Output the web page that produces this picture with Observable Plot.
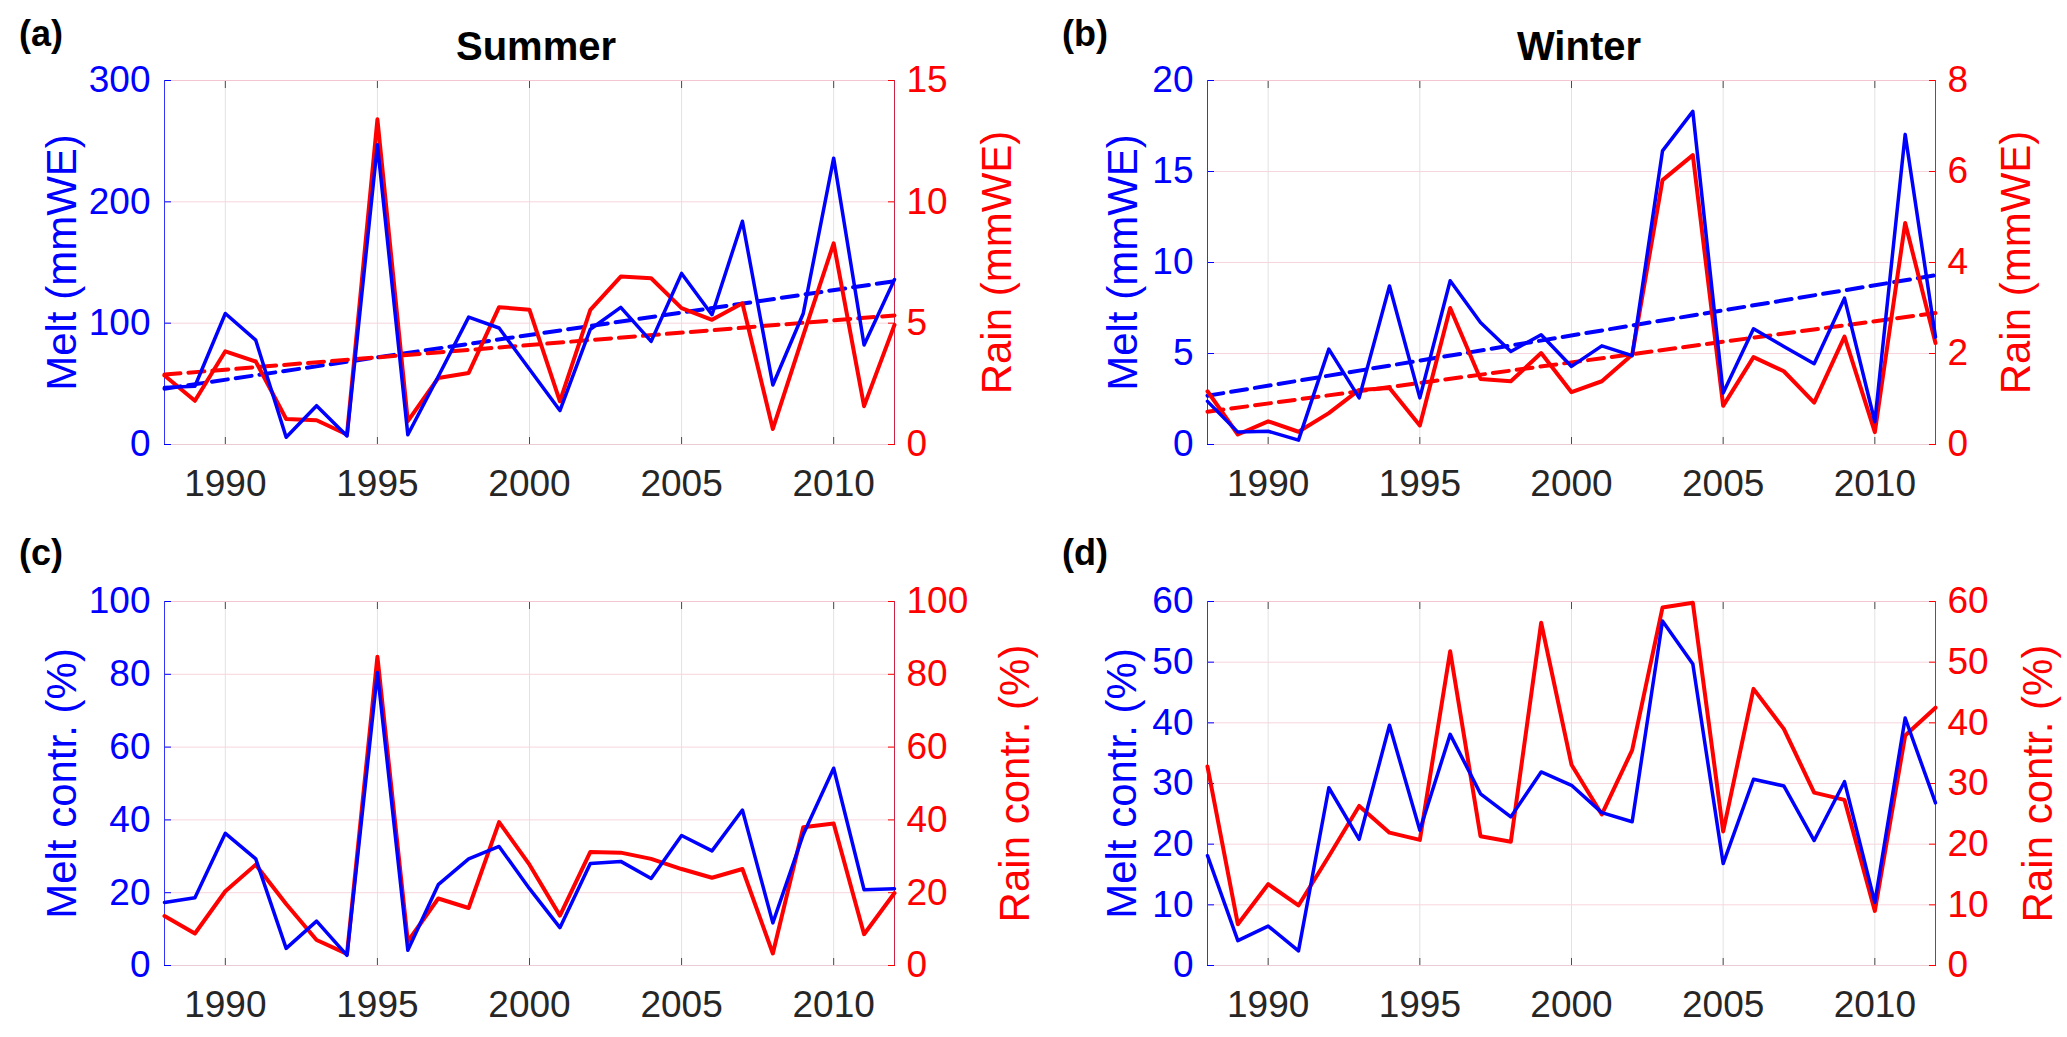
<!DOCTYPE html>
<html>
<head>
<meta charset="utf-8">
<script src="https://cdn.jsdelivr.net/npm/d3@7"></script>
<script src="https://cdn.jsdelivr.net/npm/@observablehq/plot@0.6"></script>
<style>
  body { margin: 0; background: white; }
  #fig { position: relative; width: 2067px; height: 1037px; background: white; font-family: "Liberation Sans", Arial, sans-serif; overflow: hidden; }
  #fig svg { position: absolute; overflow: visible; }
  .title { position: absolute; font-weight: bold; font-size: 40px; line-height: 1; color: #000; transform: translateX(-50%); white-space: nowrap; }
  .tag { position: absolute; font-weight: bold; font-size: 36px; line-height: 1; color: #000; }
</style>
</head>
<body>
<div id="fig">
  <div class="tag" style="left:19px;top:16px">(a)</div>
  <div class="tag" style="left:1062px;top:16px">(b)</div>
  <div class="tag" style="left:19px;top:535px">(c)</div>
  <div class="tag" style="left:1062px;top:535px">(d)</div>
  <div class="title" style="left:536px;top:26px">Summer</div>
  <div class="title" style="left:1579px;top:26px">Winter</div>
</div>
<script>
const years = [1988, 1989, 1990, 1991, 1992, 1993, 1994, 1995, 1996, 1997, 1998, 1999, 2000,
  2001, 2002, 2003, 2004, 2005, 2006, 2007, 2008, 2009, 2010, 2011, 2012];
const yearTicks = [1990, 1995, 2000, 2005, 2010];

// (a) summer, mmWE
const summerMelt = [47, 48, 108, 86, 6, 32, 7, 247, 8, 56, 105, 96, 62, 28, 95, 113, 85, 141, 107, 184, 49, 108, 236, 82, 136];
const summerRain = [2.84, 1.8, 3.84, 3.42, 1.05, 1.0, 0.41, 13.4, 0.96, 2.74, 2.95, 5.66, 5.55, 1.78, 5.55, 6.92, 6.85, 5.62, 5.14, 5.82, 0.64, 4.5, 8.29, 1.58, 4.93];
// (b) winter, mmWE
const winterMelt = [2.37, 0.68, 0.73, 0.24, 5.24, 2.56, 8.71, 2.56, 9.0, 6.7, 5.11, 6.03, 4.29, 5.42, 4.88, 16.13, 18.3, 2.83, 6.36, 5.39, 4.44, 8.04, 1.25, 17.04, 5.9];
const winterRain = [1.17, 0.22, 0.51, 0.28, 0.69, 1.2, 1.24, 0.42, 3.0, 1.44, 1.39, 2.01, 1.15, 1.39, 1.97, 5.81, 6.36, 0.85, 1.92, 1.61, 0.92, 2.37, 0.27, 4.87, 2.23];
// (c) summer contribution, %
const summerMeltPct = [17.3, 18.6, 36.3, 29.3, 4.7, 12.2, 2.8, 80.5, 4.2, 22.2, 29.3, 32.7, 21.1, 10.4, 28.0, 28.6, 23.9, 35.7, 31.5, 42.7, 11.7, 36, 54.2, 20.8, 21.1];
const summerRainPct = [13.6, 8.8, 20.4, 27.7, 16.9, 7.0, 3.2, 84.8, 6.6, 18.4, 15.8, 39.4, 27.7, 13.7, 31.2, 31.0, 29.3, 26.5, 24.1, 26.5, 3.3, 38.0, 39.0, 8.6, 19.9];
// (d) winter contribution, %
const winterMeltPct = [18.1, 4.1, 6.5, 2.4, 29.3, 20.8, 39.6, 22.3, 38.1, 28.3, 24.5, 31.9, 29.7, 25.2, 23.7, 56.8, 49.7, 16.8, 30.7, 29.6, 20.6, 30.3, 10.4, 40.8, 26.8];
const winterRainPct = [32.8, 6.8, 13.4, 9.9, 18, 26.3, 21.9, 20.7, 51.8, 21.3, 20.4, 56.5, 33.1, 24.9, 35.5, 59.0, 59.8, 22.1, 45.6, 39.0, 28.5, 27.3, 9.0, 37.9, 42.5];

// dashed trend lines, end points
const trendYears = [1988, 2012];
const summerMeltTrend = [46, 134.6];
const summerRainTrend = [2.88, 5.32];
const winterMeltTrend = [2.68, 9.3];
const winterRainTrend = [0.72, 2.89];

const BLUE = "#0000ff", RED = "#ff0000";

function panel({left, top, width, mLeft, mRight, melt, rain, meltMax, meltTicks, rainMax, rainTicks,
                meltLabel, rainLabel, labLeft, labRight, meltTrend, rainTrend}) {
  const r2m = d3.scaleLinear([0, rainMax], [0, meltMax]);
  const rows = years.map((year, i) => ({year, melt: melt[i], rain: rain[i]}));
  const trend = meltTrend ? trendYears.map((year, i) => ({year, melt: meltTrend[i], rain: rainTrend[i]})) : [];
  const chart = Plot.plot({
    width: width,
    height: 510,
    marginLeft: mLeft,
    marginRight: mRight,
    marginTop: 80,
    marginBottom: 66,
    x: {domain: [1988, 2012]},
    y: {domain: [0, meltMax]},
    style: {fontFamily: "'Liberation Sans', Arial, sans-serif", fontSize: "37px", background: "transparent"},
    marks: [
      Plot.gridX(yearTicks, {stroke: "#e2e2e2", strokeOpacity: 1}),
      Plot.gridY(meltTicks, {stroke: "#f7d5dd", strokeOpacity: 1}),
      Plot.ruleY([meltMax], {stroke: "#f2c6d1"}),
      Plot.ruleY([0], {stroke: "#ecccd4"}),
      Plot.axisX(yearTicks, {tickSize: -7, tickPadding: 32, tickFormat: d => String(d), stroke: "#4d4d4d", fill: "#262626", label: null}),
      Plot.axisX(yearTicks, {anchor: "top", tickSize: -7, tickFormat: () => "", stroke: "#4d4d4d", label: null}),
      Plot.axisY(meltTicks, {anchor: "left", tickSize: -7, tickPadding: 21, stroke: BLUE, fill: BLUE, label: null}),
      Plot.axisY(rainTicks.map(r2m), {anchor: "right", tickSize: -7, tickPadding: 19, stroke: RED, fill: RED,
        tickFormat: d => String(Math.round(r2m.invert(d) * 100) / 100), label: null}),
      Plot.ruleX([1988], {stroke: "#3333ff"}),
      Plot.ruleX([2012], {stroke: "#cc2244"}),
      Plot.lineY(trend, {x: "year", y: "melt", stroke: BLUE, strokeWidth: 4, strokeDasharray: "16,8"}),
      Plot.lineY(trend, {x: "year", y: d => r2m(d.rain), stroke: RED, strokeWidth: 4, strokeDasharray: "16,8"}),
      Plot.lineY(rows, {x: "year", y: d => r2m(d.rain), stroke: RED, strokeWidth: 4}),
      Plot.lineY(rows, {x: "year", y: "melt", stroke: BLUE, strokeWidth: 3.5}),
      Plot.text([meltLabel], {text: d => d, frameAnchor: "left", textAnchor: "middle", dx: labLeft, rotate: -90, fill: BLUE, fontSize: 42}),
      Plot.text([rainLabel], {text: d => d, frameAnchor: "right", textAnchor: "middle", dx: labRight, rotate: -90, fill: RED, fontSize: 42})
    ]
  });
  chart.style.left = left + "px";
  chart.style.top = top + "px";
  document.getElementById("fig").append(chart);
}

panel({left: 0, top: 0, width: 1033, mLeft: 164, mRight: 139,
  melt: summerMelt, rain: summerRain, meltMax: 300, meltTicks: [0, 100, 200, 300],
  rainMax: 15, rainTicks: [0, 5, 10, 15], meltLabel: "Melt (mmWE)", rainLabel: "Rain (mmWE)",
  labLeft: -102, labRight: 103, meltTrend: summerMeltTrend, rainTrend: summerRainTrend});

panel({left: 1033, top: 0, width: 1034, mLeft: 174, mRight: 132,
  melt: winterMelt, rain: winterRain, meltMax: 20, meltTicks: [0, 5, 10, 15, 20],
  rainMax: 8, rainTicks: [0, 2, 4, 6, 8], meltLabel: "Melt (mmWE)", rainLabel: "Rain (mmWE)",
  labLeft: -84, labRight: 81, meltTrend: winterMeltTrend, rainTrend: winterRainTrend});

panel({left: 0, top: 521, width: 1033, mLeft: 164, mRight: 139,
  melt: summerMeltPct, rain: summerRainPct, meltMax: 100, meltTicks: [0, 20, 40, 60, 80, 100],
  rainMax: 100, rainTicks: [0, 20, 40, 60, 80, 100], meltLabel: "Melt contr. (%)", rainLabel: "Rain contr. (%)",
  labLeft: -102, labRight: 121});

panel({left: 1033, top: 521, width: 1034, mLeft: 174, mRight: 132,
  melt: winterMeltPct, rain: winterRainPct, meltMax: 60, meltTicks: [0, 10, 20, 30, 40, 50, 60],
  rainMax: 60, rainTicks: [0, 10, 20, 30, 40, 50, 60], meltLabel: "Melt contr. (%)", rainLabel: "Rain contr. (%)",
  labLeft: -85, labRight: 103});
</script>
</body>
</html>
